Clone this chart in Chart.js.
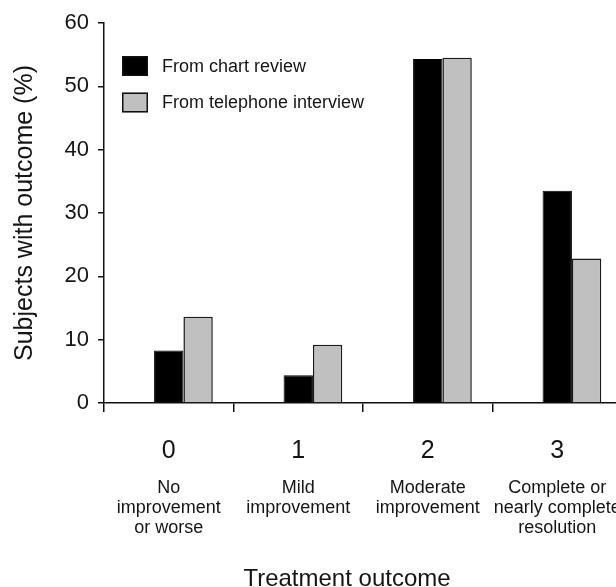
<!DOCTYPE html>
<html>
<head>
<meta charset="utf-8">
<script src="https://cdn.jsdelivr.net/npm/chart.js@4.4.1/dist/chart.umd.min.js"></script>
<style>
  html, body { margin: 0; padding: 0; background: #fff; }
  #wrap { width: 616px; height: 587px; overflow: hidden; position: relative; }
  #box { width: 640px; height: 587px; position: absolute; left: 0; top: 0; }
</style>
</head>
<body>
<div id="wrap"><div id="box"><canvas id="c"></canvas></div></div>
<script>
// ---- data ----
const categories = ['0', '1', '2', '3'];
const descriptions = [
  ['No', 'improvement', 'or worse'],
  ['Mild', 'improvement'],
  ['Moderate', 'improvement'],
  ['Complete or', 'nearly complete', 'resolution']
];
const chartReview = [8.3, 4.4, 54.3, 33.5];
const telephoneInterview = [13.6, 9.2, 54.5, 22.8];
const seriesNames = ['From chart review', 'From telephone interview'];
const yTitle = 'Subjects with outcome (%)';
const xTitle = 'Treatment outcome';
const yTicks = [0, 10, 20, 30, 40, 50, 60];

const FONT = "'Liberation Sans', Arial, Helvetica, sans-serif";
const TEXT = '#151515';

const labelsPlugin = {
  id: 'xlabels',
  afterDraw(chart) {
    const ctx = chart.ctx;
    const xs = chart.scales.x;
    ctx.save();
    ctx.fillStyle = TEXT;
    ctx.textAlign = 'center';
    ctx.textBaseline = 'alphabetic';
    categories.forEach((c, i) => {
      const x = xs.getPixelForValue(i);
      ctx.font = '25px ' + FONT;
      ctx.fillText(c, x, 458);
      ctx.font = '18px ' + FONT;
      descriptions[i].forEach((line, j) => {
        ctx.fillText(line, x, 493 + j * 20);
      });
    });
    ctx.font = '24px ' + FONT;
    ctx.fillText(xTitle, 347, 586);
    // legend inside plot area
    const items = chart.data.datasets.filter(d => d.label);
    items.forEach((d, k) => {
      const cy = 66 + k * 36.5;
      ctx.fillStyle = d.backgroundColor;
      ctx.fillRect(122, cy - 10, 26, 20);
      ctx.lineWidth = 1.5;
      ctx.strokeStyle = '#111';
      ctx.strokeRect(122.75, cy - 9.25, 24.5, 18.5);
      ctx.fillStyle = TEXT;
      ctx.font = '18px ' + FONT;
      ctx.textAlign = 'left';
      ctx.textBaseline = 'middle';
      ctx.fillText(d.label, 162, cy + 1);
    });
    ctx.restore();
  }
};

new Chart(document.getElementById('c'), {
  type: 'bar',
  data: {
    labels: categories,
    datasets: [
      { label: '', data: categories.map(() => null), backgroundColor: 'rgba(0,0,0,0)' },
      { label: seriesNames[0], data: chartReview, backgroundColor: '#000000', borderColor: '#000000', borderWidth: 1 },
      { label: seriesNames[1], data: telephoneInterview, backgroundColor: '#c0c0c0', borderColor: '#1a1a1a', borderWidth: 1.5 }
    ]
  },
  options: {
    responsive: true,
    maintainAspectRatio: false,
    animation: false,
    events: [],
    layout: { padding: { left: 0, top: 23, right: 18, bottom: 0 } },
    datasets: { bar: { categoryPercentage: 0.68, barPercentage: 1.0 } },
    plugins: { legend: { display: false }, tooltip: { enabled: false } },
    scales: {
      x: {
        type: 'category',
        offset: true,
        grid: { offset: true, drawOnChartArea: false, drawTicks: true, tickLength: 9, color: '#111', lineWidth: 1.5 },
        border: { display: true, color: '#111', width: 1.5 },
        ticks: { display: false },
        afterFit(s) { s.height = 184; }
      },
      y: {
        min: 0, max: 60,
        afterBuildTicks(s) { s.ticks = yTicks.map(v => ({ value: v })); },
        grid: { drawOnChartArea: false, drawTicks: true, tickLength: 6, color: '#111', lineWidth: 1.5 },
        border: { display: true, color: '#111', width: 1.5 },
        ticks: { font: { family: FONT, size: 22 }, color: TEXT, padding: 9 },
        title: { display: true, text: yTitle, font: { family: FONT, size: 25 }, color: TEXT, padding: { top: 10, bottom: 0 } },
        afterFit(s) { s.width = 104; }
      }
    }
  },
  plugins: [labelsPlugin]
});
</script>
</body>
</html>
